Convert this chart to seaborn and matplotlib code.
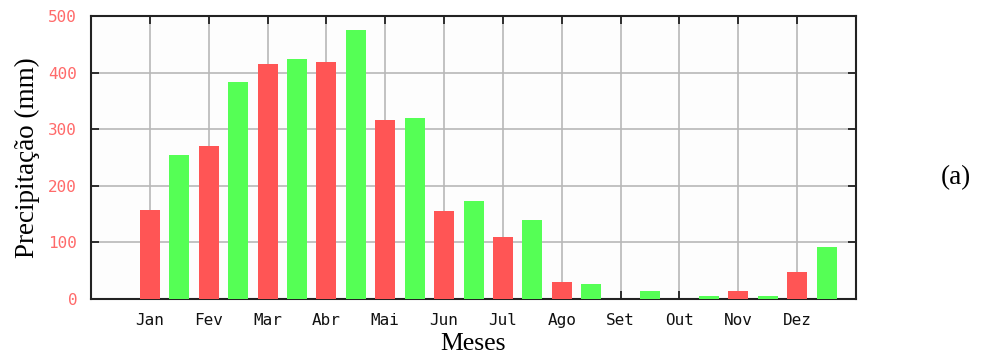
import matplotlib
matplotlib.use("Agg")
import matplotlib.pyplot as plt
import seaborn as sns
import pandas as pd

# Monthly precipitation (mm), two series per month
months = ["Jan", "Fev", "Mar", "Abr", "Mai", "Jun",
          "Jul", "Ago", "Set", "Out", "Nov", "Dez"]
serie_vermelha = [157, 270, 415, 418, 317, 155, 110, 30, 0, 0, 15, 48]
serie_verde = [255, 383, 424, 475, 320, 173, 140, 27, 15, 6, 6, 92]
y_ticks = [0, 100, 200, 300, 400, 500]

rows = []
for i, m in enumerate(months):
    rows.append({"pos": i + 1.0, "mes": m, "serie": "vermelha", "mm": serie_vermelha[i]})
    rows.append({"pos": i + 1.5, "mes": m, "serie": "verde", "mm": serie_verde[i]})
df = pd.DataFrame(rows)

sns.set_theme(style="white")
plt.rcParams["font.family"] = ["DejaVu Sans"]
plt.rcParams["text.color"] = "black"

fig = plt.figure(figsize=(9.83, 3.63), dpi=100)
ax = fig.add_axes([0.0926, 0.1763, 0.8708 - 0.0926, 0.956 - 0.1763])
ax.set_facecolor("#fdfdfd")

sns.barplot(data=df, x="pos", y="mm", hue="serie", native_scale=True,
            dodge=False, width=0.68, saturation=1,
            palette={"vermelha": "#ff5555", "verde": "#55ff55"},
            edgecolor="none", linewidth=0, legend=False, ax=ax, zorder=3)

ax.set_xlim(0, 13)
ax.set_ylim(0, 500)
ax.set_xticks(range(1, 13))
ax.set_xticklabels(months, family="DejaVu Sans Mono", fontsize=11.5, color="#111111")
ax.set_yticks(y_ticks)
ax.set_yticklabels([str(v) for v in y_ticks], family="DejaVu Sans Mono",
                   fontsize=11.5, color="#ff6a6a")

ax.grid(True, color="#b8b8b8", linewidth=1.2, zorder=0)
ax.set_axisbelow(True)
ax.tick_params(axis="both", direction="in", length=6, width=1.3, color="#222222",
               top=True, right=True, bottom=True, left=True, pad=10)
for s in ax.spines.values():
    s.set_visible(True)
    s.set_color("#222222")
    s.set_linewidth(1.5)

ax.set_xlabel("Meses", family="Liberation Serif", fontsize=18.5, labelpad=4, color="black")
ax.set_ylabel("Precipitação (mm)", family="Liberation Serif", fontsize=19.5, labelpad=6,
              color="black")

fig.text(0.972, 0.512, "(a)", family="Liberation Serif", fontsize=19.5,
         ha="center", va="center", color="black")

fig.savefig("out.png", dpi=100, facecolor="white")
